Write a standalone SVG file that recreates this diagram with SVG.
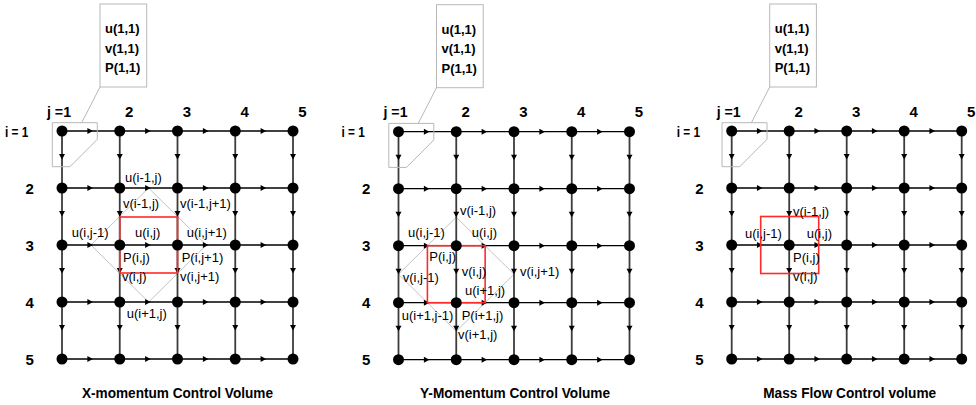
<svg xmlns="http://www.w3.org/2000/svg" xmlns:xlink="http://www.w3.org/1999/xlink" width="976" height="405" viewBox="0 0 976 405">
<style>
.hl{stroke:#000;stroke-width:1.3;fill:none;marker-mid:url(#ah)}
.vl{stroke:#3c3c3c;stroke-width:1.8;fill:none;marker-mid:url(#ah)}
.nd{fill:#000}
.gr{stroke:#c4c4c4;stroke-width:1;fill:none}
.cb{stroke:#b8b8b8;stroke-width:1;fill:none}
.bx{stroke:#b8b8b8;stroke-width:1;fill:#fff}
.rd{stroke:#ff2a2a;stroke-width:1.6;fill:none}
text{font-family:"Liberation Sans",Arial,sans-serif;fill:#000}
.lb{font-size:13px}
.bl{font-size:13px;font-weight:bold}
.ax{font-size:15px;font-weight:bold}
.am{font-size:15px;font-weight:bold;text-anchor:middle}
.ae{font-size:15px;font-weight:bold;text-anchor:end}
.tt{font-size:15.5px;font-weight:bold;text-anchor:middle}
</style>
<defs>
<marker id="ah" viewBox="-6 -4 7 8" refX="0" refY="0" markerWidth="7" markerHeight="8" markerUnits="userSpaceOnUse" orient="auto"><path d="M-5.5,-3 L0,0 L-5.5,3 z" fill="#000"/></marker>
</defs>
<rect width="976" height="405" fill="#fff"/>

<!-- ================= PANEL 1 ================= -->
<g id="panel1" transform="translate(62,131)">
 <g id="p1-connectors">
  <polygon class="gr" points="28.9,114 86.6,57 144.4,114 86.6,171"/>
  <path class="vl" d="M0,0 L0,28.5 L0,85.5 L0,142.5 L0,199.5 L0,228"/>
  <path class="vl" d="M57.75,0 L57.75,28.5 L57.75,85.5 L57.75,142.5 L57.75,199.5 L57.75,228"/>
  <path class="vl" d="M115.5,0 L115.5,28.5 L115.5,85.5 L115.5,142.5 L115.5,199.5 L115.5,228"/>
  <path class="vl" d="M173.25,0 L173.25,28.5 L173.25,85.5 L173.25,142.5 L173.25,199.5 L173.25,228"/>
  <path class="vl" d="M231,0 L231,28.5 L231,85.5 L231,142.5 L231,199.5 L231,228"/>
  <path class="hl" d="M0,0 L30.9,0 L88.6,0 L146.4,0 L204.1,0 L231,0"/>
  <path class="hl" d="M0,57 L30.9,57 L88.6,57 L146.4,57 L204.1,57 L231,57"/>
  <path class="hl" d="M0,114 L30.9,114 L88.6,114 L146.4,114 L204.1,114 L231,114"/>
  <path class="hl" d="M0,171 L30.9,171 L88.6,171 L146.4,171 L204.1,171 L231,171"/>
  <path class="hl" d="M0,228 L30.9,228 L88.6,228 L146.4,228 L204.1,228 L231,228"/>
  <polygon class="cb" points="-9.7,-8.3 35.3,-8.3 35.3,8.3 8,35.7 -9.7,35.7"/>
  <line class="cb" x1="19.7" y1="-8.3" x2="38" y2="-44"/>
 </g>
 <g id="p1-cv"><rect class="rd" x="57.75" y="86" width="57.75" height="56"/></g>
 <g id="p1-nodes">
  <circle class="nd" cx="0" cy="0" r="5.5"/><circle class="nd" cx="57.75" cy="0" r="5.5"/><circle class="nd" cx="115.5" cy="0" r="5.5"/><circle class="nd" cx="173.25" cy="0" r="5.5"/><circle class="nd" cx="231" cy="0" r="5.5"/>
  <circle class="nd" cx="0" cy="57" r="5.5"/><circle class="nd" cx="57.75" cy="57" r="5.5"/><circle class="nd" cx="115.5" cy="57" r="5.5"/><circle class="nd" cx="173.25" cy="57" r="5.5"/><circle class="nd" cx="231" cy="57" r="5.5"/>
  <circle class="nd" cx="0" cy="114" r="5.5"/><circle class="nd" cx="57.75" cy="114" r="5.5"/><circle class="nd" cx="115.5" cy="114" r="5.5"/><circle class="nd" cx="173.25" cy="114" r="5.5"/><circle class="nd" cx="231" cy="114" r="5.5"/>
  <circle class="nd" cx="0" cy="171" r="5.5"/><circle class="nd" cx="57.75" cy="171" r="5.5"/><circle class="nd" cx="115.5" cy="171" r="5.5"/><circle class="nd" cx="173.25" cy="171" r="5.5"/><circle class="nd" cx="231" cy="171" r="5.5"/>
  <circle class="nd" cx="0" cy="228" r="5.5"/><circle class="nd" cx="57.75" cy="228" r="5.5"/><circle class="nd" cx="115.5" cy="228" r="5.5"/><circle class="nd" cx="173.25" cy="228" r="5.5"/><circle class="nd" cx="231" cy="228" r="5.5"/>
 </g>
 <g id="p1-callout">
  <rect class="bx" x="38" y="-127" width="46.7" height="83"/>
  <text class="bl" x="43" y="-98">u(1,1)</text>
  <text class="bl" x="43" y="-78.5">v(1,1)</text>
  <text class="bl" x="43" y="-59">P(1,1)</text>
 </g>
 <g id="p1-axes">
  <text class="ax" x="-15" y="-14.5" textLength="24" lengthAdjust="spacingAndGlyphs">j =1</text>
  <text class="am" x="67.25" y="-14.5">2</text>
  <text class="am" x="125" y="-14.5">3</text>
  <text class="am" x="182.75" y="-14.5">4</text>
  <text class="am" x="240.5" y="-14.5">5</text>
  <text class="ax" x="-57" y="5.5" textLength="23.3" lengthAdjust="spacingAndGlyphs">i = 1</text>
  <text class="am" x="-32.3" y="62.5">2</text>
  <text class="am" x="-32.3" y="119.5">3</text>
  <text class="am" x="-32.3" y="176.5">4</text>
  <text class="am" x="-32.3" y="233.5">5</text>
 </g>
 <g id="p1-labels">
  <text class="lb" x="63" y="51">u(i-1,j)</text>
  <text class="lb" x="61" y="77">v(i-1,j)</text>
  <text class="lb" x="118" y="77">v(i-1,j+1)</text>
  <text class="lb" x="9.7" y="105.7">u(i,j-1)</text>
  <text class="lb" x="73" y="105.7">u(i,j)</text>
  <text class="lb" x="124.7" y="105.7">u(i,j+1)</text>
  <text class="lb" x="61" y="130.7">P(i,j)</text>
  <text class="lb" x="119.7" y="130.7">P(i,j+1)</text>
  <text class="lb" x="60" y="150">v(i,j)</text>
  <text class="lb" x="118" y="150">v(i,j+1)</text>
  <text class="lb" x="64.7" y="187">u(i+1,j)</text>
 </g>
 <text class="tt" x="115.5" y="267" textLength="191" lengthAdjust="spacingAndGlyphs">X-momentum Control Volume</text>
</g>

<!-- ================= PANEL 2 ================= -->
<g id="panel2" transform="translate(398.5,131.7)">
 <g id="p2-connectors">
  <polygon class="gr" points="57.75,85.5 115.5,142.5 57.75,199.5 0,142.5"/>
  <path class="vl" d="M0,0 L0,28.5 L0,85.5 L0,142.5 L0,199.5 L0,228"/>
  <path class="vl" d="M57.75,0 L57.75,28.5 L57.75,85.5 L57.75,142.5 L57.75,199.5 L57.75,228"/>
  <path class="vl" d="M115.5,0 L115.5,28.5 L115.5,85.5 L115.5,142.5 L115.5,199.5 L115.5,228"/>
  <path class="vl" d="M173.25,0 L173.25,28.5 L173.25,85.5 L173.25,142.5 L173.25,199.5 L173.25,228"/>
  <path class="vl" d="M231,0 L231,28.5 L231,85.5 L231,142.5 L231,199.5 L231,228"/>
  <path class="hl" d="M0,0 L30.9,0 L88.6,0 L146.4,0 L204.1,0 L231,0"/>
  <path class="hl" d="M0,57 L30.9,57 L88.6,57 L146.4,57 L204.1,57 L231,57"/>
  <path class="hl" d="M0,114 L30.9,114 L88.6,114 L146.4,114 L204.1,114 L231,114"/>
  <path class="hl" d="M0,171 L30.9,171 L88.6,171 L146.4,171 L204.1,171 L231,171"/>
  <path class="hl" d="M0,228 L30.9,228 L88.6,228 L146.4,228 L204.1,228 L231,228"/>
  <polygon class="cb" points="-9.7,-8.3 35.3,-8.3 35.3,8.3 8,35.7 -9.7,35.7"/>
  <line class="cb" x1="19.7" y1="-8.3" x2="38" y2="-44"/>
 </g>
 <g id="p2-cv"><rect class="rd" x="28.9" y="114" width="57.75" height="57"/></g>
 <g id="p2-nodes">
  <circle class="nd" cx="0" cy="0" r="5.5"/><circle class="nd" cx="57.75" cy="0" r="5.5"/><circle class="nd" cx="115.5" cy="0" r="5.5"/><circle class="nd" cx="173.25" cy="0" r="5.5"/><circle class="nd" cx="231" cy="0" r="5.5"/>
  <circle class="nd" cx="0" cy="57" r="5.5"/><circle class="nd" cx="57.75" cy="57" r="5.5"/><circle class="nd" cx="115.5" cy="57" r="5.5"/><circle class="nd" cx="173.25" cy="57" r="5.5"/><circle class="nd" cx="231" cy="57" r="5.5"/>
  <circle class="nd" cx="0" cy="114" r="5.5"/><circle class="nd" cx="57.75" cy="114" r="5.5"/><circle class="nd" cx="115.5" cy="114" r="5.5"/><circle class="nd" cx="173.25" cy="114" r="5.5"/><circle class="nd" cx="231" cy="114" r="5.5"/>
  <circle class="nd" cx="0" cy="171" r="5.5"/><circle class="nd" cx="57.75" cy="171" r="5.5"/><circle class="nd" cx="115.5" cy="171" r="5.5"/><circle class="nd" cx="173.25" cy="171" r="5.5"/><circle class="nd" cx="231" cy="171" r="5.5"/>
  <circle class="nd" cx="0" cy="228" r="5.5"/><circle class="nd" cx="57.75" cy="228" r="5.5"/><circle class="nd" cx="115.5" cy="228" r="5.5"/><circle class="nd" cx="173.25" cy="228" r="5.5"/><circle class="nd" cx="231" cy="228" r="5.5"/>
 </g>
 <g id="p2-callout">
  <rect class="bx" x="38" y="-127" width="46.7" height="83"/>
  <text class="bl" x="43" y="-98">u(1,1)</text>
  <text class="bl" x="43" y="-78.5">v(1,1)</text>
  <text class="bl" x="43" y="-59">P(1,1)</text>
 </g>
 <g id="p2-axes">
  <text class="ax" x="-15" y="-14.5" textLength="24" lengthAdjust="spacingAndGlyphs">j =1</text>
  <text class="am" x="67.25" y="-14.5">2</text>
  <text class="am" x="125" y="-14.5">3</text>
  <text class="am" x="182.75" y="-14.5">4</text>
  <text class="am" x="240.5" y="-14.5">5</text>
  <text class="ax" x="-57" y="5.5" textLength="23.3" lengthAdjust="spacingAndGlyphs">i = 1</text>
  <text class="am" x="-32.3" y="62.5">2</text>
  <text class="am" x="-32.3" y="119.5">3</text>
  <text class="am" x="-32.3" y="176.5">4</text>
  <text class="am" x="-32.3" y="233.5">5</text>
 </g>
 <g id="p2-labels">
  <text class="lb" x="61.5" y="83.3">v(i-1,j)</text>
  <text class="lb" x="9.5" y="105">u(i,j-1)</text>
  <text class="lb" x="73.2" y="105">u(i,j)</text>
  <text class="lb" x="30.8" y="129.3">P(i,j)</text>
  <text class="lb" x="4.2" y="150.3">v(i,j-1)</text>
  <text class="lb" x="63.2" y="144.3">v(i,j)</text>
  <text class="lb" x="121.5" y="144.3">v(i,j+1)</text>
  <text class="lb" x="66.5" y="163.8">u(i+1,j)</text>
  <text class="lb" x="3.2" y="188.3">u(i+1,j-1)</text>
  <text class="lb" x="63.2" y="188.3">P(i+1,j)</text>
  <text class="lb" x="59.5" y="207.3">v(i+1,j)</text>
 </g>
 <text class="tt" x="116.5" y="266.5" textLength="190" lengthAdjust="spacingAndGlyphs">Y-Momentum Control Volume</text>
</g>

<!-- ================= PANEL 3 ================= -->
<g id="panel3" transform="translate(731.7,131)">
 <g id="p3-connectors">
  <path class="vl" d="M0,0 L0,28.5 L0,85.5 L0,142.5 L0,199.5 L0,228"/>
  <path class="vl" d="M57.5,0 L57.5,28.5 L57.5,85.5 L57.5,142.5 L57.5,199.5 L57.5,228"/>
  <path class="vl" d="M115,0 L115,28.5 L115,85.5 L115,142.5 L115,199.5 L115,228"/>
  <path class="vl" d="M172.5,0 L172.5,28.5 L172.5,85.5 L172.5,142.5 L172.5,199.5 L172.5,228"/>
  <path class="vl" d="M230,0 L230,28.5 L230,85.5 L230,142.5 L230,199.5 L230,228"/>
  <path class="hl" d="M0,0 L30.75,0 L88.25,0 L145.75,0 L203.25,0 L230,0"/>
  <path class="hl" d="M0,57 L30.75,57 L88.25,57 L145.75,57 L203.25,57 L230,57"/>
  <path class="hl" d="M0,114 L30.75,114 L88.25,114 L145.75,114 L203.25,114 L230,114"/>
  <path class="hl" d="M0,171 L30.75,171 L88.25,171 L145.75,171 L203.25,171 L230,171"/>
  <path class="hl" d="M0,228 L30.75,228 L88.25,228 L145.75,228 L203.25,228 L230,228"/>
  <polygon class="cb" points="-9.7,-8.3 35.3,-8.3 35.3,8.3 8,35.7 -9.7,35.7"/>
  <line class="cb" x1="19.7" y1="-8.3" x2="38" y2="-44"/>
 </g>
 <g id="p3-cv"><rect class="rd" x="29" y="85.5" width="58" height="57"/></g>
 <g id="p3-nodes">
  <circle class="nd" cx="0" cy="0" r="5.5"/><circle class="nd" cx="57.5" cy="0" r="5.5"/><circle class="nd" cx="115" cy="0" r="5.5"/><circle class="nd" cx="172.5" cy="0" r="5.5"/><circle class="nd" cx="230" cy="0" r="5.5"/>
  <circle class="nd" cx="0" cy="57" r="5.5"/><circle class="nd" cx="57.5" cy="57" r="5.5"/><circle class="nd" cx="115" cy="57" r="5.5"/><circle class="nd" cx="172.5" cy="57" r="5.5"/><circle class="nd" cx="230" cy="57" r="5.5"/>
  <circle class="nd" cx="0" cy="114" r="5.5"/><circle class="nd" cx="57.5" cy="114" r="5.5"/><circle class="nd" cx="115" cy="114" r="5.5"/><circle class="nd" cx="172.5" cy="114" r="5.5"/><circle class="nd" cx="230" cy="114" r="5.5"/>
  <circle class="nd" cx="0" cy="171" r="5.5"/><circle class="nd" cx="57.5" cy="171" r="5.5"/><circle class="nd" cx="115" cy="171" r="5.5"/><circle class="nd" cx="172.5" cy="171" r="5.5"/><circle class="nd" cx="230" cy="171" r="5.5"/>
  <circle class="nd" cx="0" cy="228" r="5.5"/><circle class="nd" cx="57.5" cy="228" r="5.5"/><circle class="nd" cx="115" cy="228" r="5.5"/><circle class="nd" cx="172.5" cy="228" r="5.5"/><circle class="nd" cx="230" cy="228" r="5.5"/>
 </g>
 <g id="p3-callout">
  <rect class="bx" x="38" y="-127" width="46.7" height="83"/>
  <text class="bl" x="43" y="-98">u(1,1)</text>
  <text class="bl" x="43" y="-78.5">v(1,1)</text>
  <text class="bl" x="43" y="-59">P(1,1)</text>
 </g>
 <g id="p3-axes">
  <text class="ax" x="-15" y="-14.5" textLength="24" lengthAdjust="spacingAndGlyphs">j =1</text>
  <text class="am" x="67" y="-14.5">2</text>
  <text class="am" x="124.5" y="-14.5">3</text>
  <text class="am" x="182" y="-14.5">4</text>
  <text class="am" x="239.5" y="-14.5">5</text>
  <text class="ax" x="-55" y="5.5" textLength="23.3" lengthAdjust="spacingAndGlyphs">i = 1</text>
  <text class="am" x="-32.3" y="62.5">2</text>
  <text class="am" x="-32.3" y="119.5">3</text>
  <text class="am" x="-32.3" y="176.5">4</text>
  <text class="am" x="-32.3" y="233.5">5</text>
 </g>
 <g id="p3-labels">
  <text class="lb" x="61.3" y="85">v(i-1,j)</text>
  <text class="lb" x="13.3" y="107">u(i,j-1)</text>
  <text class="lb" x="75" y="107">u(i,j)</text>
  <text class="lb" x="61.3" y="130.7">P(i,j)</text>
  <text class="lb" x="61.3" y="150">v(i,j)</text>
 </g>
 <text class="tt" x="118" y="267" textLength="173" lengthAdjust="spacingAndGlyphs">Mass Flow Control volume</text>
</g>
</svg>
